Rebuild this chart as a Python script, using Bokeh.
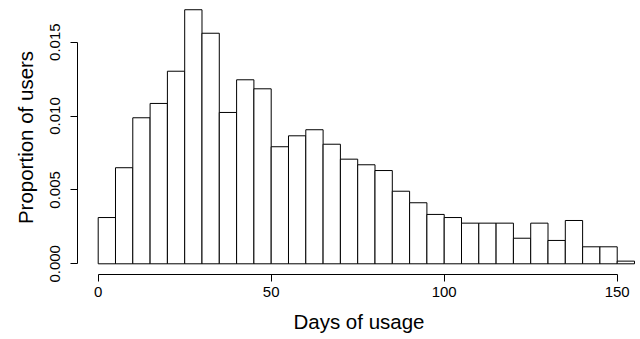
from bokeh.plotting import figure
from bokeh.models import Range1d, LinearAxis, FixedTicker, PrintfTickFormatter
from bokeh.embed import file_html
from bokeh.resources import INLINE

bin_edges = [0, 5, 10, 15, 20, 25, 30, 35, 40, 45, 50, 55, 60, 65, 70, 75, 80,
             85, 90, 95, 100, 105, 110, 115, 120, 125, 130, 135, 140, 145, 150, 155]
proportions = [0.00313, 0.0065, 0.00988, 0.01085, 0.01303, 0.01719, 0.0156,
               0.01024, 0.01245, 0.01184, 0.00792, 0.00866, 0.00907, 0.00809,
               0.00708, 0.0067, 0.00631, 0.00491, 0.00413, 0.00334, 0.00313,
               0.00275, 0.00275, 0.00275, 0.00173, 0.00275, 0.00158, 0.00293,
               0.00115, 0.00115, 0.00018]
x_ticks = [0, 50, 100, 150]
y_ticks = [0.0, 0.005, 0.010, 0.015]
x_title = "Days of usage"
y_title = "Proportion of users"

FONT = "Liberation Sans"

p = figure(width=640, height=339, output_backend="svg", toolbar_location=None,
           x_range=Range1d(-5.98, 156.73), y_range=Range1d(-0.000724, 0.017815),
           x_axis_type=None, y_axis_type=None,
           min_border_left=77, min_border_right=0, min_border_top=0,
           min_border_bottom=65)
p.grid.visible = False
p.outline_line_color = None
p.background_fill_color = "white"
p.border_fill_color = "white"

p.quad(left=bin_edges[:-1], right=bin_edges[1:], top=proportions, bottom=0,
       fill_color="white", line_color="black", line_width=1)

def style(ax, ticks, title, label_standoff, title_standoff):
    ax.ticker = FixedTicker(ticks=ticks)
    ax.minor_tick_line_color = None
    ax.major_tick_in = 0
    ax.major_tick_out = 7
    ax.axis_line_color = "black"
    ax.major_tick_line_color = "black"
    ax.major_label_text_font = FONT
    ax.major_label_text_font_size = "15px"
    ax.major_label_text_color = "black"
    ax.major_label_standoff = label_standoff
    ax.axis_label = title
    ax.axis_label_text_font = FONT
    ax.axis_label_text_font_size = "20.5px"
    ax.axis_label_text_font_style = "normal"
    ax.axis_label_text_color = "black"
    ax.axis_label_standoff = title_standoff

yax = LinearAxis(bounds=(0, 0.015))
style(yax, y_ticks, y_title, 10, 11)
yax.formatter = PrintfTickFormatter(format="%.3f")
yax.major_label_orientation = "parallel"
p.add_layout(yax, "left")

xax = LinearAxis(bounds=(0, 150))
style(xax, x_ticks, x_title, 5, 10)
p.add_layout(xax, "below")

open("out.html", "w").write(file_html(p, INLINE))
